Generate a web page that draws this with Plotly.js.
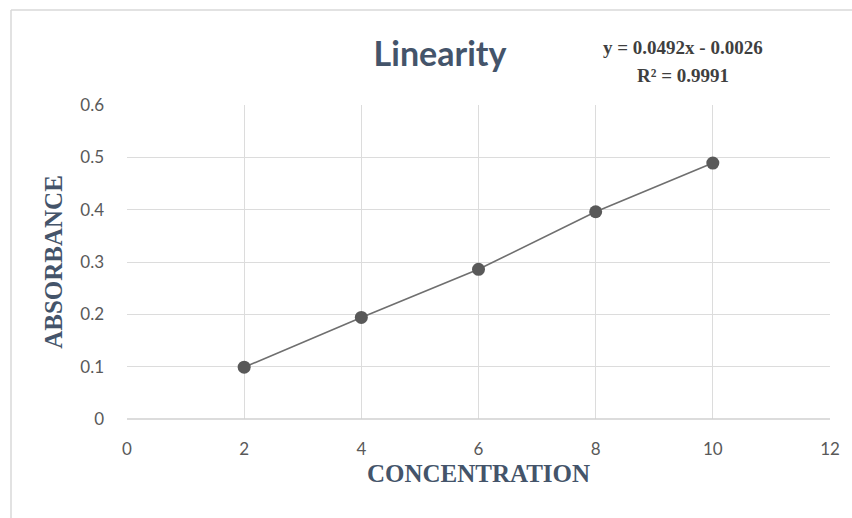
<!DOCTYPE html>
<html>
<head>
<meta charset="utf-8">
<script src="https://cdn.plot.ly/plotly-3.0.1.min.js"></script>
<style>html,body{margin:0;padding:0;background:#fff;}#chart{width:852px;height:518px;}</style>
</head>
<body>
<div id="chart"></div>
<script>
const concentration = [2, 4, 6, 8, 10];
const absorbance = [0.099, 0.194, 0.286, 0.396, 0.489];
const xTicks = [0, 2, 4, 6, 8, 10, 12];
const yTicks = [0, 0.1, 0.2, 0.3, 0.4, 0.5, 0.6];
const yTickLabels = ['0', '0.1', '0.2', '0.3', '0.4', '0.5', '0.6'];
const chartTitle = 'Linearity';
const equationText = 'y = 0.0492x - 0.0026';
const r2Text = 'R² = 0.9991';

const trace = {
  x: concentration,
  y: absorbance,
  type: 'scatter',
  mode: 'lines+markers',
  line: {color: '#6f6f6f', width: 1.6},
  marker: {color: '#595959', size: 13},
  showlegend: false,
  hoverinfo: 'x+y'
};

const tickFont = {family: 'Lato, "Open Sans", sans-serif', size: 17, color: '#595959'};
const axisTitleFont = {family: '"Liberation Serif", "Times New Roman", serif', size: 25, color: '#44546a'};
const frameLeft = (11-127)/703;
const frameTop = 1 + (105-10)/314;

const layout = {
  width: 852,
  height: 518,
  margin: {l: 127, r: 22, t: 105, b: 99},
  paper_bgcolor: '#ffffff',
  plot_bgcolor: '#ffffff',
  title: {
    text: '<b>' + chartTitle + '</b>',
    font: {family: 'Lato, "Open Sans", sans-serif', size: 34, color: '#44546a'},
    x: 440/852, xref: 'container', xanchor: 'center',
    y: 1 - 54/518, yref: 'container', yanchor: 'middle'
  },
  xaxis: {
    range: [0, 12],
    tickvals: xTicks,
    ticktext: xTicks.map(String),
    showgrid: true,
    gridcolor: '#dcdcdc',
    gridwidth: 1,
    zeroline: false,
    showline: false,
    ticks: '',
    ticklabelstandoff: 18,
    tickfont: tickFont,
    title: {
      text: '<b>CONCENTRATION</b>',
      font: axisTitleFont,
      standoff: 6
    },
    fixedrange: true
  },
  yaxis: {
    range: [0, 0.6],
    tickvals: yTicks,
    ticktext: yTickLabels,
    showgrid: true,
    gridcolor: '#dcdcdc',
    gridwidth: 1,
    zeroline: false,
    showline: false,
    ticks: '',
    ticklabelstandoff: 22,
    tickfont: tickFont,
    title: {
      text: '<b>ABSORBANCE</b>',
      font: axisTitleFont,
      standoff: 10
    },
    fixedrange: true
  },
  shapes: [
    {type: 'line', xref: 'paper', yref: 'paper', x0: frameLeft, x1: 1.1, y0: frameTop, y1: frameTop,
     line: {color: '#d9d9d9', width: 1.5}, layer: 'below'},
    {type: 'line', xref: 'paper', yref: 'paper', x0: frameLeft, x1: frameLeft, y0: -0.4, y1: frameTop,
     line: {color: '#d9d9d9', width: 1.5}, layer: 'below'},
    {type: 'line', xref: 'paper', yref: 'paper', x0: 0, x1: 1, y0: 0, y1: 0,
     line: {color: '#d0d0d0', width: 1.5}}
  ],
  annotations: [
    {text: '<b>' + equationText + '</b>', xref: 'paper', yref: 'paper',
     x: (683-127)/703, y: 1 + (105-47)/314, xanchor: 'center', yanchor: 'middle', showarrow: false,
     font: {family: '"Liberation Serif", "Times New Roman", serif', size: 19, color: '#3f3f3f'}},
    {text: '<b>' + r2Text + '</b>', xref: 'paper', yref: 'paper',
     x: (683-127)/703, y: 1 + (105-75)/314, xanchor: 'center', yanchor: 'middle', showarrow: false,
     font: {family: '"Liberation Serif", "Times New Roman", serif', size: 19, color: '#3f3f3f'}}
  ]
};

Plotly.newPlot('chart', [trace], layout, {displayModeBar: false, staticPlot: true});
</script>
</body>
</html>
